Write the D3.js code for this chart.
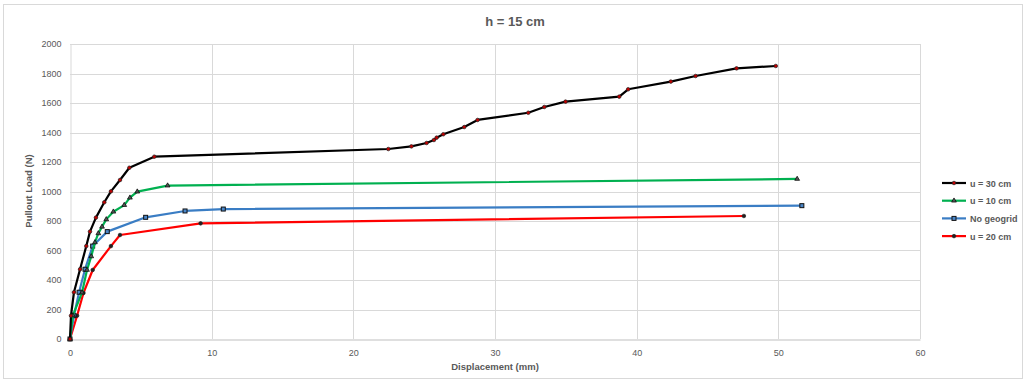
<!DOCTYPE html>
<html>
<head>
<meta charset="utf-8">
<script src="https://cdn.jsdelivr.net/npm/d3@7"></script>
<style>
  body { margin: 0; background: #fff; }
  text { font-family: "Liberation Sans Narrow", "Liberation Sans", Arial, sans-serif; fill: #595959; }
</style>
</head>
<body>
<div id="chart"></div>
<script>
// values (displacement mm, load N)
const u30X = [0, 0.07, 0.28, 0.71, 1.15, 1.41, 1.83, 2.42, 2.89, 3.53, 4.19, 5.95, 22.47, 24.1, 25.17, 25.69, 25.88, 26.35, 27.83, 28.77, 32.35, 33.48, 34.98, 38.77, 39.4, 42.41, 44.16, 47.05, 49.82];
const u30Y = [0, 158, 317, 473, 630, 728, 823, 927, 1001, 1078, 1161, 1236, 1288, 1306, 1329, 1349, 1365, 1388, 1437, 1485, 1534, 1573, 1609, 1643, 1693, 1745, 1783, 1835, 1851];

const u10X = [0, 0.2, 0.85, 1.2, 1.5, 1.76, 2.0, 2.26, 2.56, 3.06, 3.83, 4.23, 4.75, 6.89, 51.33];
const u10Y = [0, 160, 315, 468, 560, 655, 716, 761, 811, 863, 908, 958, 999, 1040, 1085];

const noGridX = [0, 0.28, 0.64, 1.06, 1.6, 2.63, 5.34, 8.12, 10.82, 51.66];
const noGridY = [0, 158, 317, 473, 630, 728, 825, 868, 881, 904];

const u20X = [0, 0.5, 0.95, 1.6, 2.89, 3.53, 9.22, 47.57];
const u20Y = [0, 158, 312, 468, 630, 705, 784, 834];

const xTicks = [0, 10, 20, 30, 40, 50, 60];
const yTicks = [0, 200, 400, 600, 800, 1000, 1200, 1400, 1600, 1800, 2000];

const seriesNames = ['u = 30 cm', 'u = 10 cm', 'No geogrid', 'u = 20 cm'];

const W = 1027, H = 383;
const margin = { left: 70, right: 107, top: 44, bottom: 44 };

const series = [
    { name: seriesNames[0], xs: u30X, ys: u30Y, color: '#000000', marker: 'circle', fill: '#c00000' },
    { name: seriesNames[1], xs: u10X, ys: u10Y, color: '#00b050', marker: 'triangle', fill: '#000000' },
    { name: seriesNames[2], xs: noGridX, ys: noGridY, color: '#3a7dc4', marker: 'square', fill: '#4a86c8' },
    { name: seriesNames[3], xs: u20X, ys: u20Y, color: '#ff0000', marker: 'circle', fill: '#222222' }
];

const svg = d3.select('#chart').append('svg')
    .attr('width', W)
    .attr('height', H);

svg.append('rect')
    .attr('x', 3.5).attr('y', 4.5)
    .attr('width', 1019).attr('height', 374)
    .style('fill', '#fff')
    .style('stroke', '#d9d9d9')

const x = d3.scaleLinear().domain([0, 60]).range([margin.left, W - margin.right]);
const y = d3.scaleLinear().domain([0, 2000]).range([H - margin.bottom, margin.top]);

// gridlines
svg.append('g')
    .selectAll('line.hg')
    .data(yTicks.slice(1))
    .enter().append('line')
    .attr('x1', x(0)).attr('x2', x(60))
    .attr('y1', d => Math.round(y(d)) + 0.5).attr('y2', d => Math.round(y(d)) + 0.5)
    .style('stroke', '#d9d9d9')
    .style('stroke-width', 1)

svg.append('g')
    .selectAll('line.vg')
    .data(xTicks.slice(1))
    .enter().append('line')
    .attr('y1', y(0)).attr('y2', y(2000))
    .attr('x1', d => Math.round(x(d)) + 0.5).attr('x2', d => Math.round(x(d)) + 0.5)
    .style('stroke', '#d9d9d9')
    .style('stroke-width', 1)

// axes
const xAxis = svg.append('g')
    .attr('transform', `translate(0,${Math.round(y(0)) + 0.5})`)
    .call(d3.axisBottom(x).tickValues(xTicks).tickSize(0).tickPadding(10).tickFormat(d3.format('d')))
xAxis.select('.domain').style('stroke', '#bfbfbf')
xAxis.selectAll('text').style('font-size', '9px').style('fill', '#595959')

const yAxis = svg.append('g')
    .attr('transform', `translate(${Math.round(x(0)) + 0.5},0)`)
    .call(d3.axisLeft(y).tickValues(yTicks).tickSize(0).tickPadding(9).tickFormat(d3.format('d')))
yAxis.select('.domain').style('stroke', '#d9d9d9')
yAxis.selectAll('text').style('font-size', '9px').style('fill', '#595959')

// titles
svg.append('text')
    .attr('x', 515).attr('y', 26)
    .attr('text-anchor', 'middle')
    .style('font-size', '13px')
    .style('font-weight', 'bold')
    .text('h = 15 cm')

svg.append('text')
    .attr('x', 495).attr('y', 370)
    .attr('text-anchor', 'middle')
    .style('font-size', '9.5px')
    .style('font-weight', 'bold')
    .text('Displacement (mm)')

svg.append('text')
    .attr('transform', 'translate(32,191) rotate(-90)')
    .attr('text-anchor', 'middle')
    .style('font-size', '9.5px')
    .style('font-weight', 'bold')
    .text('Pullout Load (N)')

const line = d3.line()
    .x(d => x(d[0]))
    .y(d => y(d[1]));

function drawMarker(g, s, cx, cy) {
    if (s.marker === 'circle') {
        g.append('circle')
            .attr('cx', cx).attr('cy', cy).attr('r', 1.8)
            .style('fill', s.fill)
            .style('stroke', '#222')
            .style('stroke-width', 0.7)
    } else if (s.marker === 'triangle') {
        g.append('path')
            .attr('d', d3.symbol().type(d3.symbolTriangle).size(10)())
            .attr('transform', `translate(${cx},${cy})`)
            .style('fill', '#555')
            .style('stroke', '#000')
            .style('stroke-width', 0.7)
    } else {
        g.append('rect')
            .attr('x', cx - 2).attr('y', cy - 2)
            .attr('width', 4).attr('height', 4)
            .style('fill', s.fill)
            .style('stroke', '#111')
            .style('stroke-width', 1)
    }
}

// draw in reverse so black is on top
series.slice().reverse().forEach(s => {
    const pts = s.xs.map((v, i) => [v, s.ys[i]]);
    const g = svg.append('g');
    g.append('path')
        .datum(pts)
        .attr('d', line)
        .style('fill', 'none')
        .style('stroke', s.color)
        .style('stroke-width', 2.2)
        .style('stroke-linejoin', 'round')
    pts.forEach(p => drawMarker(g, s, x(p[0]), y(p[1])));
});

// legend
const legend = svg.append('g')
    .selectAll('g')
    .data(series)
    .enter().append('g')
    .attr('transform', (d, i) => `translate(942,${183 + i * 17.7})`)

legend.append('line')
    .attr('x1', 0).attr('x2', 24)
    .style('stroke', d => d.color)
    .style('stroke-width', 2.2)

legend.each(function(d) { drawMarker(d3.select(this), d, 12, 0); });

legend.append('text')
    .attr('x', 28).attr('y', 3.5)
    .style('font-size', '9px')
    .style('font-weight', 'bold')
    .text(d => d.name)
</script>
</body>
</html>
